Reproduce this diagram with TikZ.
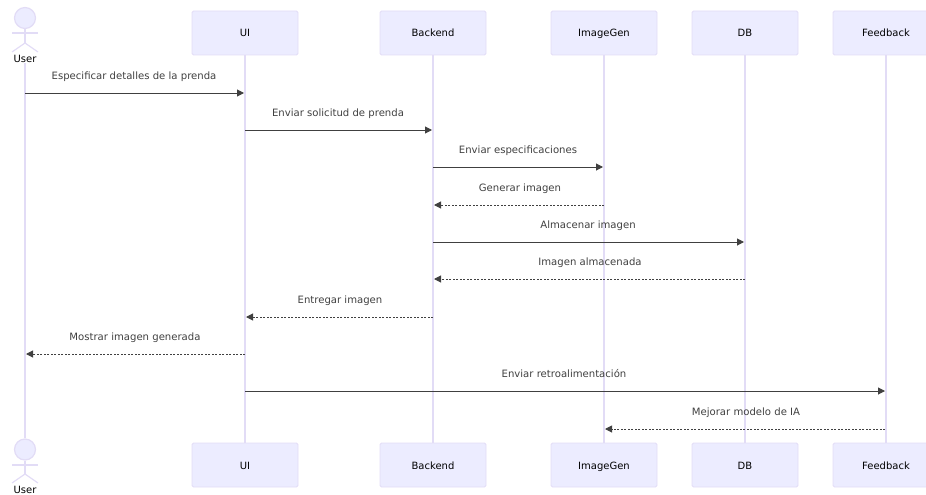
\documentclass[tikz,border=0pt]{standalone}
\usepackage{fontspec}
\setmainfont{DejaVu Sans}
\usetikzlibrary{arrows.meta}
\usetikzlibrary{positioning}

\definecolor{actorfill}{HTML}{ECECFF}
\definecolor{actorline}{HTML}{E2DCF6}
\definecolor{msgline}{HTML}{404040}

\tikzset{
    actorbox/.style={rectangle, rounded corners=1.5pt, draw=actorline, fill=actorfill, line width=0.8pt, minimum width=106pt, minimum height=44pt, inner sep=0pt, text height=10pt, text depth=2pt, font=\fontsize{10}{12}\selectfont},
    actorname/.style={inner sep=0pt, text height=7.5pt, text depth=0pt, font=\fontsize{10}{12}\selectfont},
    stickman/.style={draw=actorline, line width=1.2pt},
    lifeline/.style={draw=actorline, line width=1.2pt},
    msglabel/.style={inner sep=0pt, text=msgline, text height=9.5pt, text depth=2.2pt, font=\fontsize{10.1}{12}\selectfont},
    callmsg/.style={draw=msgline, line width=1pt, -{Triangle[length=7pt, width=7pt]}},
    replymsg/.style={callmsg, dash pattern=on 1.6pt off 1.9pt},
}

\begin{document}
\begin{tikzpicture}[x=1pt, y=-1pt]
    \useasboundingbox (0,0) rectangle (926,495);

    % top row
    \node[actorbox] (ui) at (245,33) {UI};
    \node[actorbox] (backend) at (433,33) {Backend};
    \node[actorbox] (imagegen) at (604,33) {ImageGen};
    \node[actorbox] (db) at (745,33) {DB};
    \node[actorbox] (feedback) at (886,33) {Feedback};

    % bottom row
    \node[actorbox] (ui2) at (245,465) {UI};
    \node[actorbox] (backend2) at (433,465) {Backend};
    \node[actorbox] (imagegen2) at (604,465) {ImageGen};
    \node[actorbox] (db2) at (745,465) {DB};
    \node[actorbox] (feedback2) at (886,465) {Feedback};

    % user figures
    \node[actorname] (user) at (25,59) {User};
    \node[actorname] (user2) at (25,490) {User};
    \node[circle, stickman, fill=actorfill, minimum size=21pt, inner sep=0pt] (head) at (25,18) {};
    \node[circle, stickman, fill=actorfill, minimum size=21pt, inner sep=0pt] (head2) at (25,449.5) {};
    \coordinate (hip) at (25,43);
    \coordinate (hip2) at (25,474);
    \draw[stickman] (head.south) -- (hip);
    \draw[stickman] (12,33) -- (38,33);
    \draw[stickman] (12,52) -- (hip) -- (38,52);
    \draw[stickman] (head2.south) -- (hip2);
    \draw[stickman] (12,465) -- (38,465);
    \draw[stickman] (12,483) -- (hip2) -- (38,483);

    % lifelines
    \draw[lifeline] (user.south) -- (head2.north);
    \draw[lifeline] (ui.south) -- (ui2.north);
    \draw[lifeline] (backend.south) -- (backend2.north);
    \draw[lifeline] (imagegen.south) -- (imagegen2.north);
    \draw[lifeline] (db.south) -- (db2.north);
    \draw[lifeline] (feedback.south) -- (feedback2.north);

    % message ends
    \coordinate (m1a) at (25,93);    \coordinate (m1b) at (244,93);
    \coordinate (m2a) at (245,130);  \coordinate (m2b) at (432,130);
    \coordinate (m3a) at (433,167);  \coordinate (m3b) at (603,167);
    \coordinate (m4a) at (604,205);  \coordinate (m4b) at (434,205);
    \coordinate (m5a) at (433,242);  \coordinate (m5b) at (744,242);
    \coordinate (m6a) at (745,279);  \coordinate (m6b) at (434,279);
    \coordinate (m7a) at (433,317);  \coordinate (m7b) at (246,317);
    \coordinate (m8a) at (245,354);  \coordinate (m8b) at (26,354);
    \coordinate (m9a) at (245,391);  \coordinate (m9b) at (885,391);
    \coordinate (m10a) at (885,429); \coordinate (m10b) at (605,429);

    \draw[callmsg] (m1a) -- (m1b);
    \draw[callmsg] (m2a) -- (m2b);
    \draw[callmsg] (m3a) -- (m3b);
    \draw[replymsg] (m4a) -- (m4b);
    \draw[callmsg] (m5a) -- (m5b);
    \draw[replymsg] (m6a) -- (m6b);
    \draw[replymsg] (m7a) -- (m7b);
    \draw[replymsg] (m8a) -- (m8b);
    \draw[callmsg] (m9a) -- (m9b);
    \draw[replymsg] (m10a) -- (m10b);

    % message labels
    \node[msglabel] (t1) at (134,75.5) {Especificar detalles de la prenda};
    \node[msglabel] (t2) at (338,113) {Enviar solicitud de prenda};
    \node[msglabel] (t3) at (518,150) {Enviar especificaciones};
    \node[msglabel] (t4) at (520,187.5) {Generar imagen};
    \node[msglabel] (t5) at (588,225) {Almacenar imagen};
    \node[msglabel] (t6) at (590,262) {Imagen almacenada};
    \node[msglabel] (t7) at (340,299.5) {Entregar imagen};
    \node[msglabel] (t8) at (135,337) {Mostrar imagen generada};
    \node[msglabel] (t9) at (564,374) {Enviar retroalimentación};
    \node[msglabel] (t10) at (746,411.5) {Mejorar modelo de IA};
\end{tikzpicture}
\end{document}
